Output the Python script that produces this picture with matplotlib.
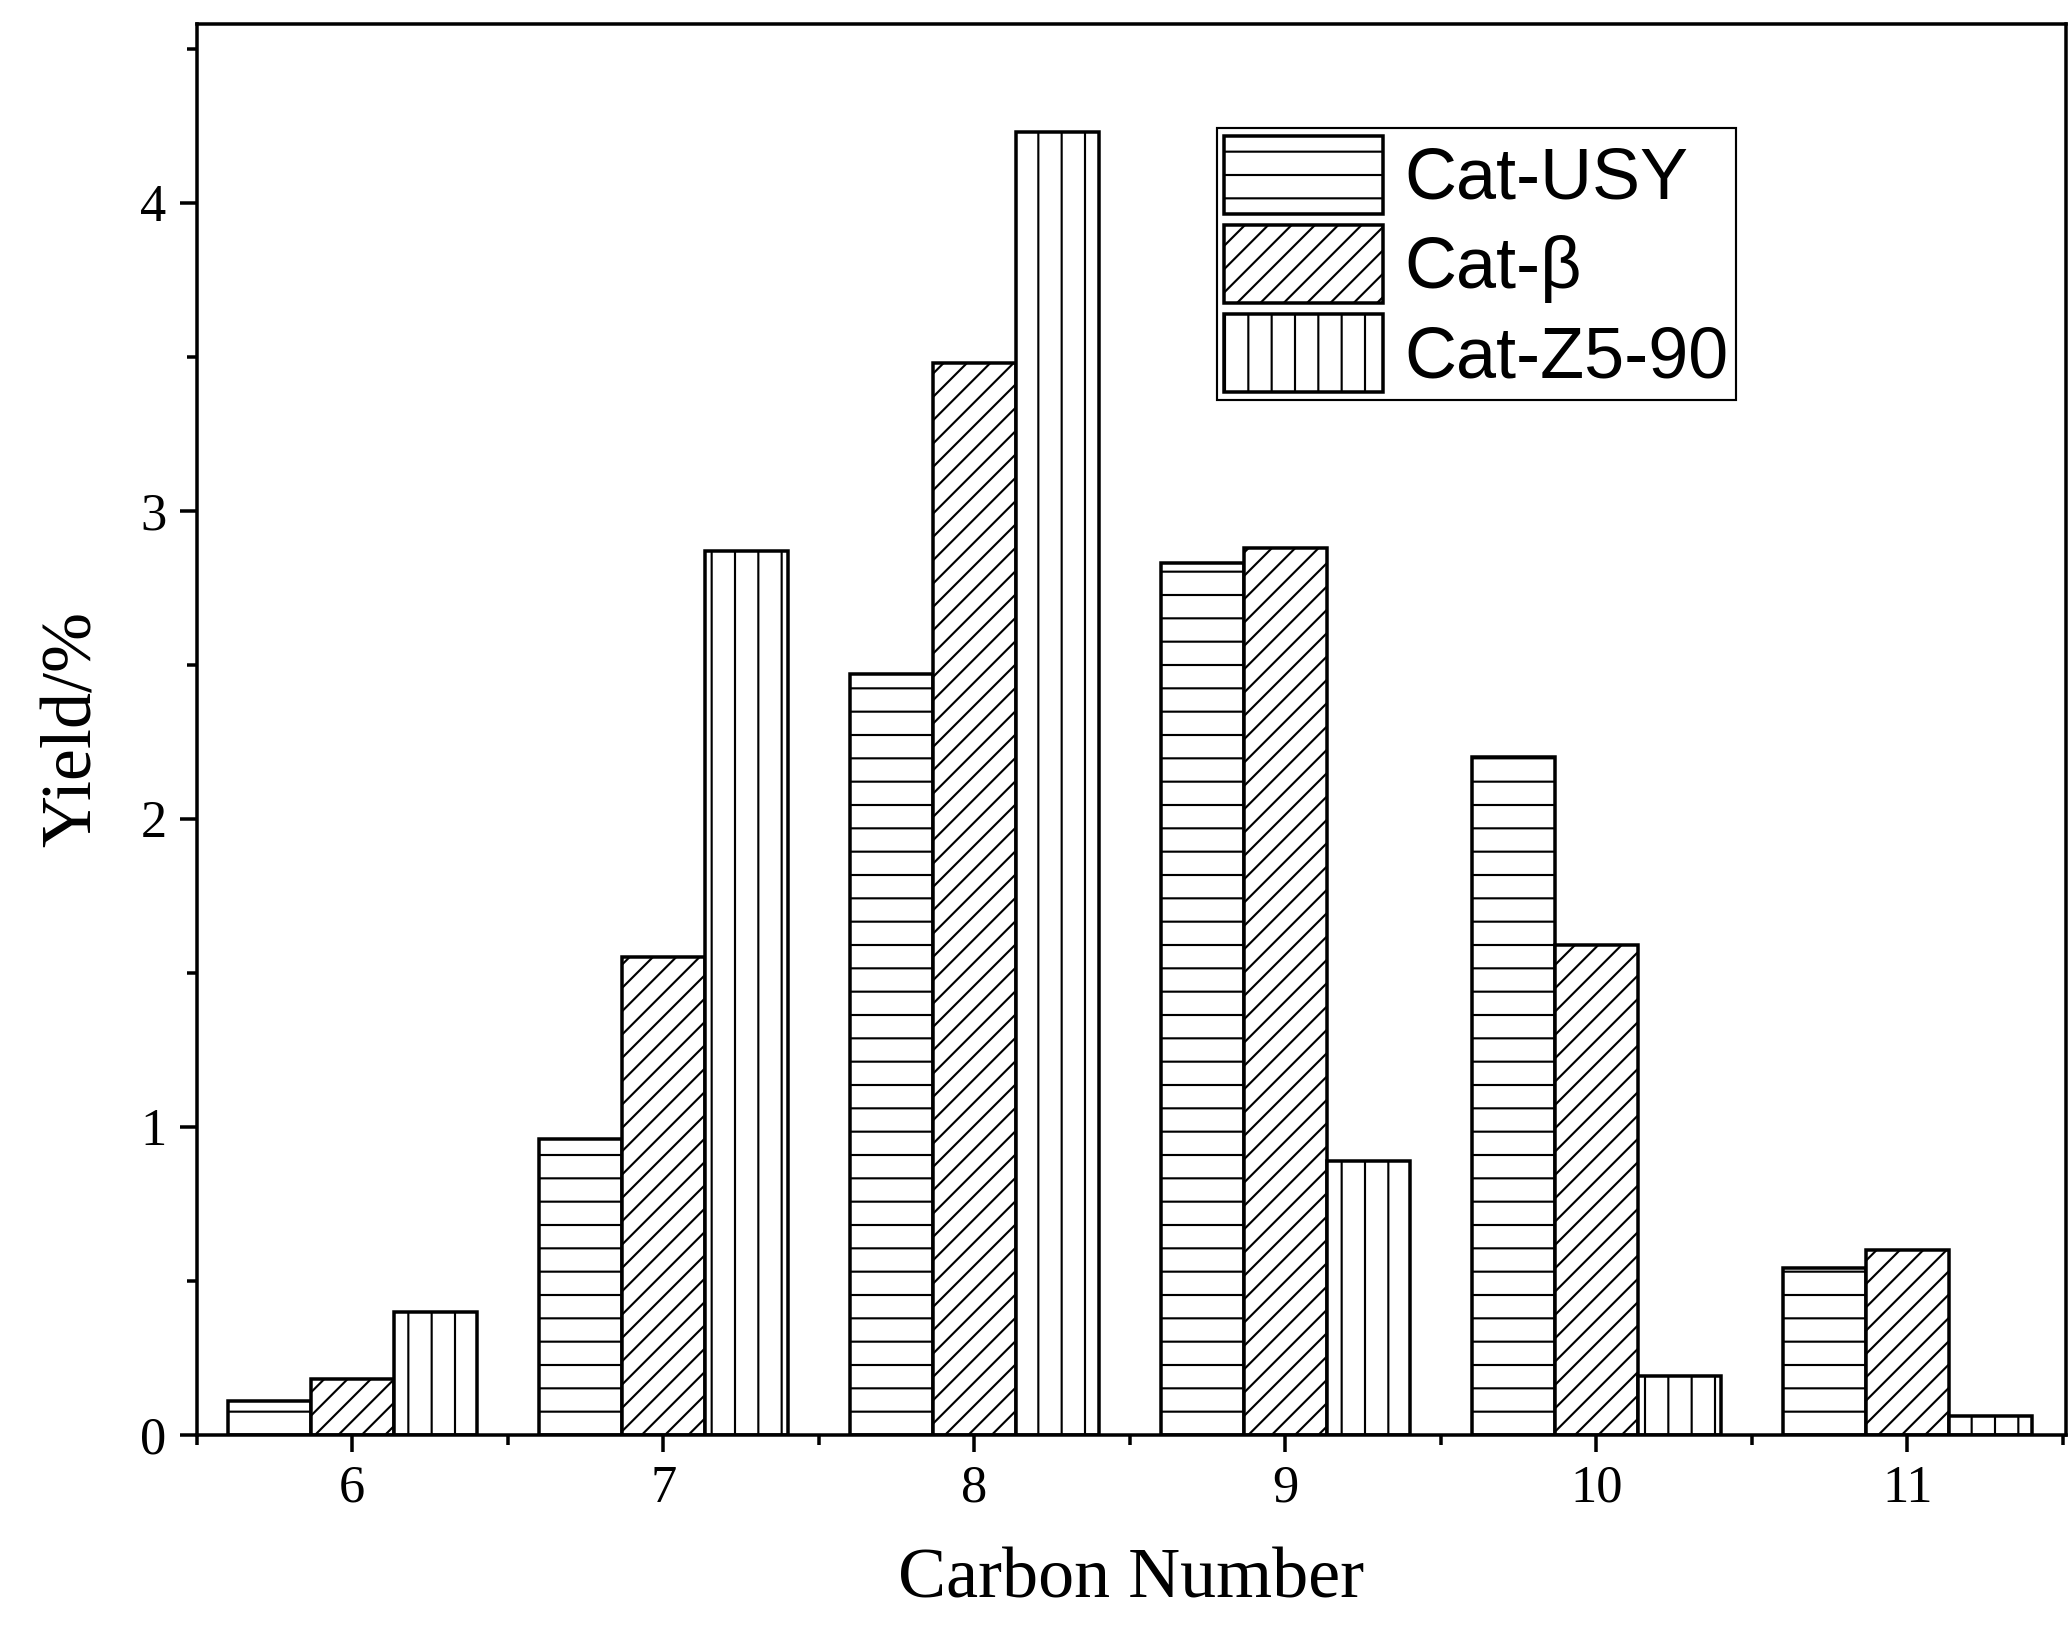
import matplotlib
matplotlib.use("Agg")
import matplotlib.pyplot as plt
import numpy as np
from matplotlib.ticker import MultipleLocator

carbon = [6, 7, 8, 9, 10, 11]
usy = [0.11, 0.96, 2.47, 2.83, 2.20, 0.54]
beta = [0.18, 1.55, 3.48, 2.88, 1.59, 0.60]
z5 = [0.40, 2.87, 4.23, 0.89, 0.19, 0.06]
labels = ["Cat-USY", "Cat-\u03b2", "Cat-Z5-90"]

DPI = 140  # higher dpi -> sparser hatch lines, like the reference
plt.rcParams["hatch.linewidth"] = 1.1
fig = plt.figure(figsize=(2072 / DPI, 1652 / DPI), dpi=DPI)
ax = fig.add_axes([0.095, 0.1315, 0.902, 0.854])

x = np.array(carbon)
w = 0.267
kw = dict(width=w, color="white", edgecolor="black", linewidth=1.8)
ax.bar(x - w, usy, hatch="-", label=labels[0], **kw)
ax.bar(x, beta, hatch="//", label=labels[1], **kw)
ax.bar(x + w, z5, hatch="|", label=labels[2], **kw)

ax.set_xlim(5.5, 11.51)
ax.set_ylim(0, 4.58)
ax.set_xticks(carbon)
ax.xaxis.set_minor_locator(MultipleLocator(0.5))
ax.yaxis.set_major_locator(MultipleLocator(1))
ax.yaxis.set_minor_locator(MultipleLocator(0.5))
ax.tick_params(which="major", direction="out", length=8.5, width=1.8,
               labelsize=27, pad=7)
ax.tick_params(which="minor", direction="out", length=5, width=1.8)
for lab in ax.get_xticklabels() + ax.get_yticklabels():
    lab.set_family("Liberation Serif")
for s in ax.spines.values():
    s.set_linewidth(1.8)

ax.set_xlabel("Carbon Number", family="Liberation Serif", fontsize=37, labelpad=18)
ax.set_ylabel("Yield/%", family="Liberation Serif", fontsize=37, labelpad=18)

leg = ax.legend(loc="upper left", bbox_to_anchor=(0.546, 0.926),
                prop={"family": "Liberation Sans", "size": 37},
                fancybox=False, edgecolor="black", framealpha=1,
                handlelength=2.2, handleheight=1.3, borderpad=0.1,
                labelspacing=0.15, handletextpad=0.3, borderaxespad=0)
leg.get_frame().set_linewidth(1.1)

fig.savefig("out.png", dpi=DPI)
